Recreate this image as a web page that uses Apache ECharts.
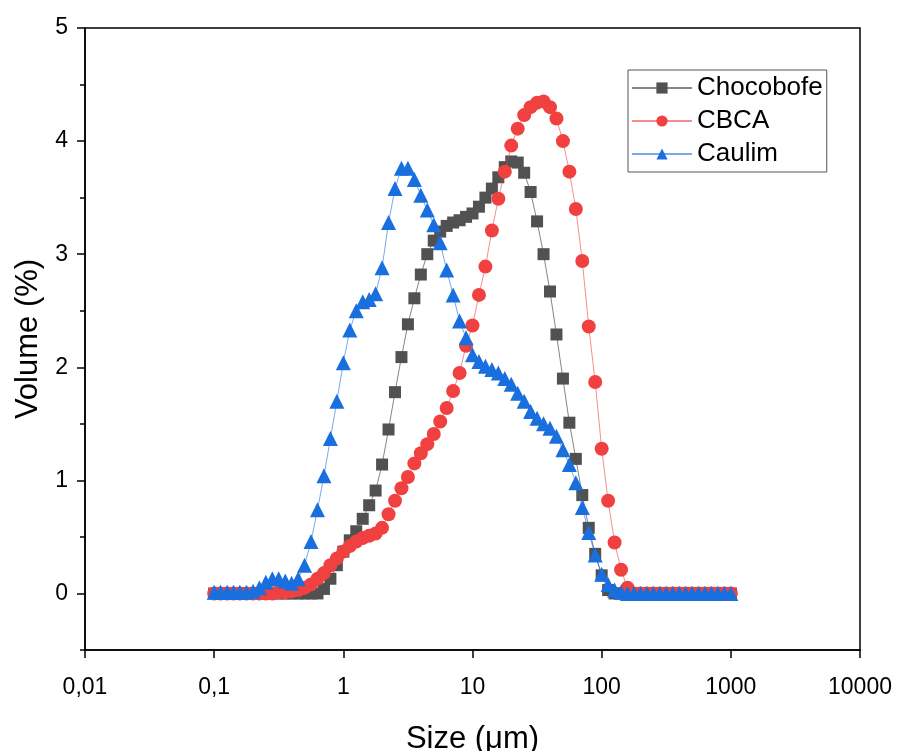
<!DOCTYPE html>
<html>
<head>
<meta charset="utf-8">
<script src="https://cdn.jsdelivr.net/npm/echarts@6/dist/echarts.min.js"></script>
<style>
html,body{margin:0;padding:0;background:#fff;}
#chart{width:898px;height:751px;}
</style>
</head>
<body>
<div id="chart"></div>
<script>
// Particle size classes (µm)
var sizes = [0.1,0.112,0.126,0.141,0.158,0.178,0.2,0.224,0.251,0.282,
  0.316,0.355,0.398,0.447,0.501,0.562,0.631,0.708,0.794,0.891,
  1,1.122,1.259,1.413,1.585,1.778,1.995,2.239,2.512,2.818,
  3.162,3.548,3.981,4.467,5.012,5.623,6.31,7.079,7.943,8.913,
  10,11.22,12.59,14.13,15.85,17.78,19.95,22.39,25.12,28.18,
  31.62,35.48,39.81,44.67,50.12,56.23,63.1,70.79,79.43,89.13,
  100,112.2,125.9,141.3,158.5,177.8,199.5,223.9,251.2,281.8,
  316.2,354.8,398.1,446.7,501.2,562.3,631,707.9,794.3,891.3,1000];

var chocobofe = [0,0,0,0,0,0,0,0,0,0,
  0,0,0,0,0,0,0.00,0.04,0.13,0.25,
  0.37,0.47,0.55,0.66,0.78,0.91,1.14,1.45,1.78,2.09,
  2.38,2.61,2.82,3.00,3.12,3.20,3.25,3.28,3.30,3.33,
  3.36,3.42,3.50,3.58,3.68,3.77,3.82,3.81,3.72,3.55,
  3.29,3.00,2.67,2.29,1.90,1.51,1.19,0.87,0.58,0.35,
  0.16,0.03,0,0,0,0,0,0,0,0,
  0,0,0,0,0,0,0,0,0,0,0];

var cbca = [0,0,0,0,0,0,0,0,0,0,
  0.01,0.01,0.02,0.03,0.05,0.08,0.13,0.18,0.25,0.31,
  0.37,0.42,0.46,0.49,0.51,0.53,0.58,0.70,0.82,0.93,
  1.03,1.15,1.24,1.32,1.41,1.52,1.64,1.79,1.95,2.19,
  2.37,2.64,2.89,3.21,3.49,3.73,3.96,4.11,4.23,4.30,
  4.34,4.35,4.30,4.20,4.00,3.73,3.40,2.94,2.36,1.87,
  1.28,0.82,0.45,0.21,0.05,0,0,0,0,0,
  0,0,0,0,0,0,0,0,0,0,0];

var caulim = [0.01,0.01,0.01,0.01,0.01,0.01,0.02,0.05,0.10,0.13,
  0.13,0.11,0.09,0.13,0.25,0.46,0.74,1.04,1.37,1.70,
  2.04,2.33,2.50,2.58,2.60,2.65,2.88,3.28,3.58,3.76,
  3.76,3.66,3.52,3.39,3.26,3.10,2.86,2.64,2.41,2.26,
  2.11,2.05,2.01,1.98,1.95,1.90,1.85,1.77,1.70,1.61,
  1.55,1.50,1.46,1.39,1.27,1.14,0.98,0.76,0.54,0.34,
  0.17,0.08,0.03,0.01,0,0,0,0,0,0,
  0,0,0,0,0,0,0,0,0,0,0];

var seriesNames = ['Chocobofe','CBCA','Caulim'];
var xTickLabels = ['0,01','0,1','1','10','100','1000','10000'];
var yTickValues = [0,1,2,3,4,5];
var yMinorValues = [-0.5,0.5,1.5,2.5,3.5,4.5];

function pairs(vals){ return sizes.map(function(s,i){ return [s, vals[i]]; }); }

var FONT = 'Liberation Sans, Arial, sans-serif';
var chart = echarts.init(document.getElementById('chart'), null, {renderer:'canvas'});
chart.setOption({
  animation:false,
  backgroundColor:'#fff',
  grid:{left:85,right:38,top:28,bottom:101,show:true,borderColor:'#000',borderWidth:1.5,
        backgroundColor:'transparent',containLabel:false,outerBoundsMode:'none'},
  legend:{
    data:seriesNames,
    orient:'vertical',
    left:628, top:70,
    padding:[4,4,4,3],
    itemWidth:60, itemHeight:14, itemGap:5,
    borderColor:'#555', borderWidth:1,
    textStyle:{fontFamily:FONT,fontSize:26,color:'#000',lineHeight:28}
  },
  xAxis:{
    type:'log', logBase:10, min:0.01, max:10000,
    name:'Size (μm)', nameLocation:'middle', nameGap:74,
    nameTextStyle:{fontFamily:FONT,fontSize:31,color:'#000'},
    axisLine:{onZero:false,lineStyle:{color:'#000',width:1.5}},
    axisTick:{inside:false,length:8,lineStyle:{color:'#000',width:1.5}},
    axisLabel:{fontFamily:FONT,fontSize:23,color:'#000',margin:26,
      formatter:function(v){ var k=Math.round(Math.log10(v))+2; return xTickLabels[k]||''; }},
    splitLine:{show:false}, minorTick:{show:false}
  },
  yAxis:[{
    type:'value', min:-0.5, max:5,
    name:'Volume (%)', nameLocation:'middle', nameGap:39,
    nameTextStyle:{fontFamily:FONT,fontSize:31,color:'#000'},
    axisLine:{show:true,onZero:false,lineStyle:{color:'#000',width:1.5}},
    axisTick:{show:true,inside:false,length:8,customValues:yTickValues,lineStyle:{color:'#000',width:1.5}},
    axisLabel:{fontFamily:FONT,fontSize:23,color:'#000',margin:17,customValues:yTickValues},
    splitLine:{show:false}
  },{
    type:'value', min:-0.5, max:5, position:'left',
    axisLine:{show:false,onZero:false},
    axisTick:{show:true,inside:false,length:5,customValues:yMinorValues,lineStyle:{color:'#000',width:1.5}},
    axisLabel:{show:false},
    splitLine:{show:false}
  }],
  series:[
    {name:seriesNames[0],type:'line',data:pairs(chocobofe),symbol:'rect',symbolSize:12,
     itemStyle:{color:'#515151'},lineStyle:{color:'#515151',width:1,opacity:0.7},z:2},
    {name:seriesNames[1],type:'line',data:pairs(cbca),symbol:'circle',symbolSize:14,
     itemStyle:{color:'#F14040'},lineStyle:{color:'#F14040',width:1,opacity:0.6},z:3},
    {name:seriesNames[2],type:'line',data:pairs(caulim),symbol:'triangle',symbolSize:15,
     itemStyle:{color:'#1A6FDF'},lineStyle:{color:'#1A6FDF',width:1,opacity:0.6},z:4}
  ]
});
</script>
</body>
</html>
